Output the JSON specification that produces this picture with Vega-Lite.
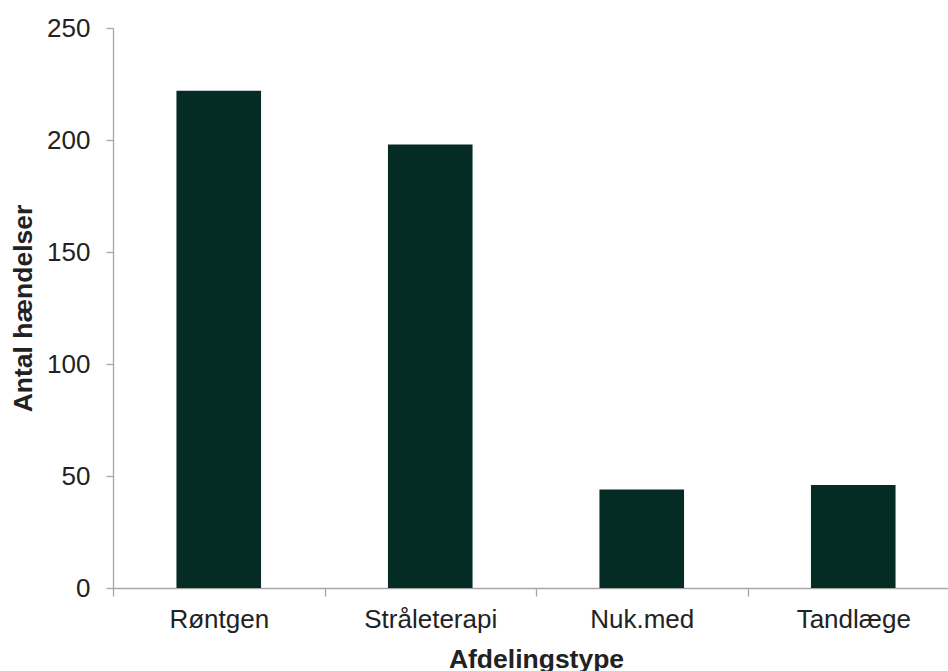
{
  "$schema": "https://vega.github.io/schema/vega-lite/v6.json",
  "autosize": {"type": "none"},
  "padding": {"left": 113, "top": 28, "right": 0, "bottom": 83},
  "width": 846,
  "height": 560,
  "background": "white",
  "data": {
    "values": [
      {"afdeling": "Røntgen", "antal": 222},
      {"afdeling": "Stråleterapi", "antal": 198},
      {"afdeling": "Nuk.med", "antal": 44},
      {"afdeling": "Tandlæge", "antal": 46}
    ]
  },
  "mark": {"type": "bar", "color": "#042b24", "width": {"band": 0.4}},
  "encoding": {
    "x": {
      "field": "afdeling",
      "type": "nominal",
      "sort": null,
      "scale": {"paddingInner": 0, "paddingOuter": 0},
      "axis": {
        "title": "Afdelingstype",
        "labelAngle": 0,
        "tickBand": "extent",
        "tickSize": 8,
        "labelBaseline": "alphabetic",
        "labelPadding": 31.7,
        "titleBaseline": "alphabetic",
        "titleY": 79
      }
    },
    "y": {
      "field": "antal",
      "type": "quantitative",
      "scale": {"domain": [0, 250], "nice": false},
      "axis": {
        "title": "Antal hændelser",
        "values": [0, 50, 100, 150, 200, 250],
        "grid": false,
        "tickSize": 7,
        "labelPadding": 16,
        "titleAngle": -90,
        "titleX": -90,
        "titleY": 280,
        "titleAlign": "center",
        "titleBaseline": "middle"
      }
    }
  },
  "config": {
    "view": {"stroke": null},
    "font": "Liberation Sans",
    "axis": {
      "domainColor": "#a6a6a6",
      "domainWidth": 1.3,
      "tickColor": "#a6a6a6",
      "tickWidth": 1.3,
      "labelFont": "Liberation Sans",
      "labelFontSize": 26,
      "labelColor": "#222222",
      "titleFont": "Liberation Sans",
      "titleFontSize": 26.5,
      "titleFontWeight": "bold",
      "titleColor": "#222222"
    }
  }
}
